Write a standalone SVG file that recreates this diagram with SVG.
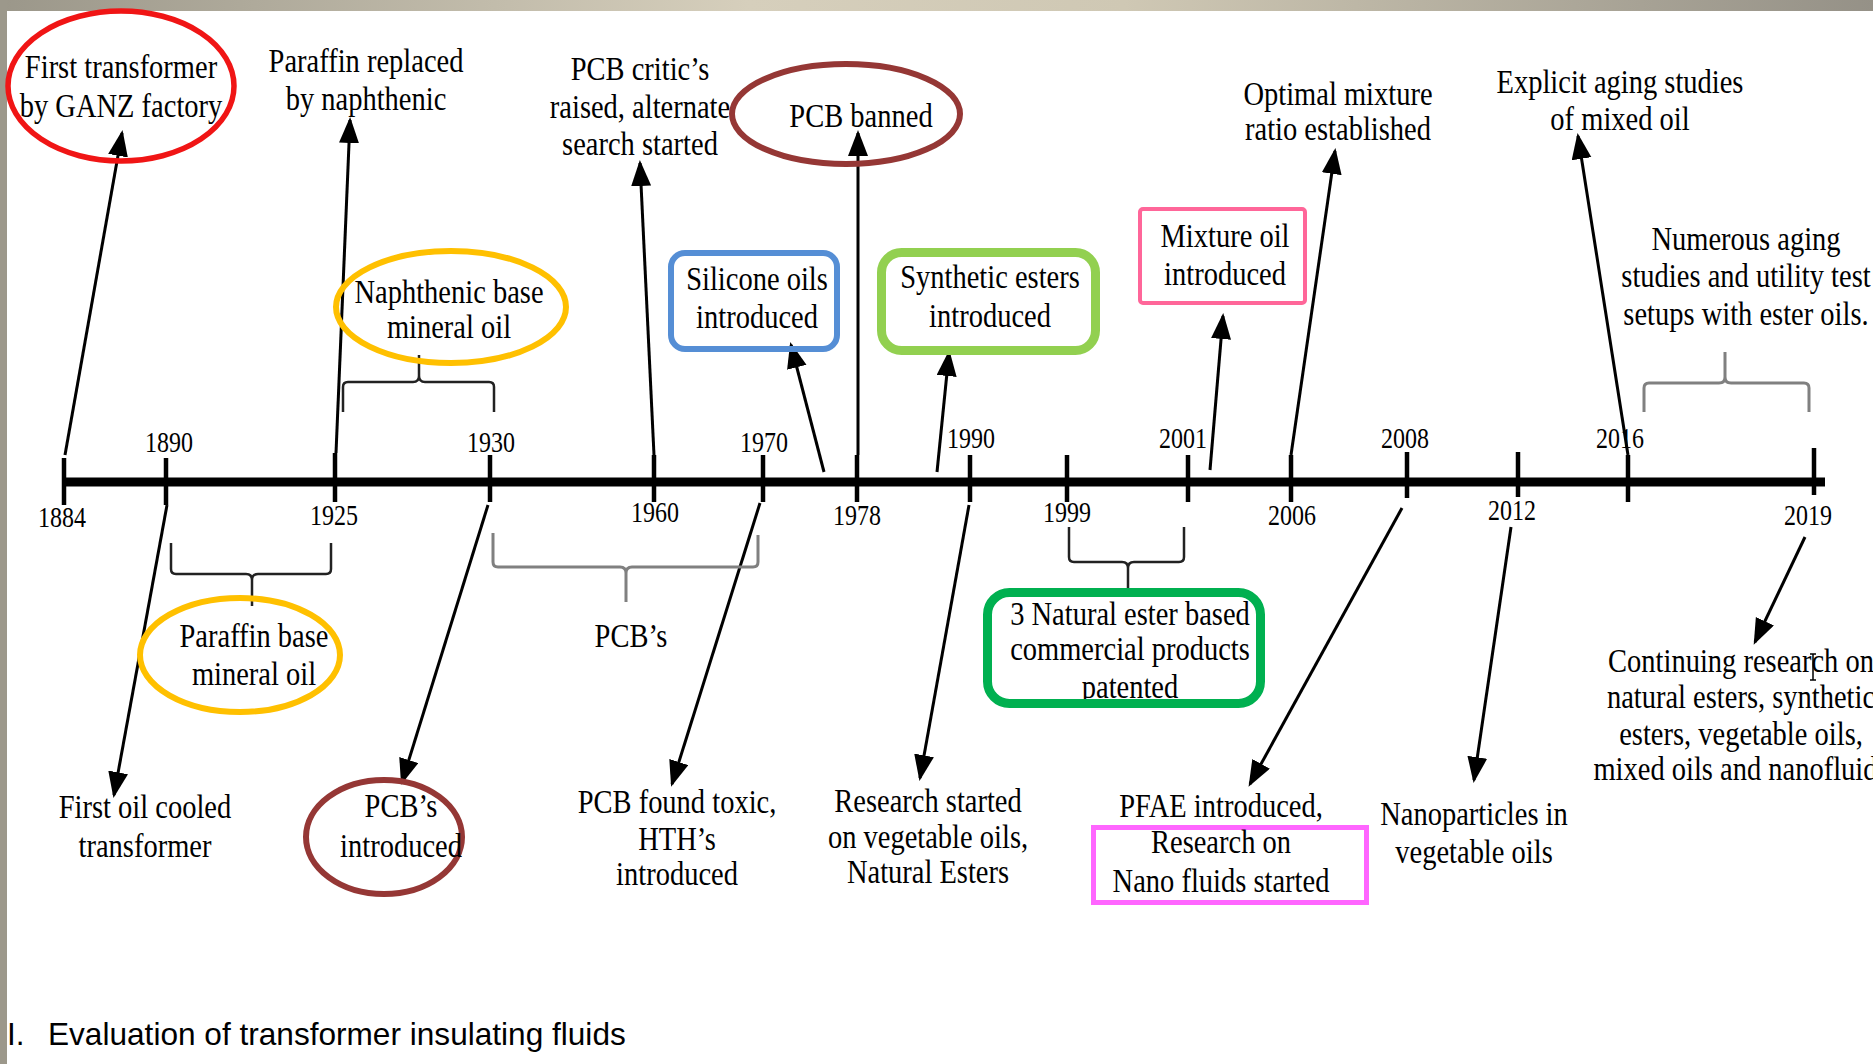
<svg xmlns="http://www.w3.org/2000/svg" width="1873" height="1064" viewBox="0 0 1873 1064">
<defs>
<linearGradient id="topbar" x1="0" x2="1" y1="0" y2="0">
<stop offset="0" stop-color="#9b978a"/>
<stop offset="0.4" stop-color="#d6cfbc"/>
<stop offset="0.6" stop-color="#cfc8b4"/>
<stop offset="1" stop-color="#959187"/>
</linearGradient>
<marker id="ah" markerUnits="userSpaceOnUse" markerWidth="28" markerHeight="22" refX="23" refY="10" orient="auto" viewBox="0 0 28 22">
<path d="M0,0 L26,10 L0,20 z" fill="#000"/>
</marker>
</defs>
<style>
.t{font-family:"Liberation Serif","Times New Roman",serif;font-size:28.5px;fill:#000;text-anchor:middle}
.y{font-family:"Liberation Serif","Times New Roman",serif;font-size:24px;fill:#000;text-anchor:middle}
.cap{font-family:"Liberation Sans",Arial,sans-serif;font-size:31.6px;fill:#000}
.ar{stroke:#000;stroke-width:3;fill:none;marker-end:url(#ah)}
.tk{stroke:#000;stroke-width:4.5}
.br{fill:none;stroke:#222;stroke-width:2.5}
.brg{fill:none;stroke:#808080;stroke-width:3}
.sh{fill:none}
</style>
<rect x="0" y="0" width="1873" height="1064" fill="#fff"/>
<rect x="0" y="0" width="1873" height="11" fill="url(#topbar)"/>
<rect x="0" y="0" width="7" height="1064" fill="#9c988b"/>

<g id="axis">
<line x1="63" y1="482" x2="1825" y2="482" stroke="#000" stroke-width="9"/>
<line class="tk" x1="64" y1="458" x2="64" y2="505"/>
<line class="tk" x1="166" y1="458" x2="166" y2="505"/>
<line class="tk" x1="335" y1="453" x2="335" y2="502"/>
<line class="tk" x1="490" y1="455" x2="490" y2="502"/>
<line class="tk" x1="654" y1="455" x2="654" y2="502"/>
<line class="tk" x1="763" y1="455" x2="763" y2="502"/>
<line class="tk" x1="857" y1="455" x2="857" y2="502"/>
<line class="tk" x1="970" y1="455" x2="970" y2="502"/>
<line class="tk" x1="1067" y1="455" x2="1067" y2="502"/>
<line class="tk" x1="1188" y1="455" x2="1188" y2="502"/>
<line class="tk" x1="1291" y1="455" x2="1291" y2="502"/>
<line class="tk" x1="1407" y1="452" x2="1407" y2="498"/>
<line class="tk" x1="1518" y1="452" x2="1518" y2="497"/>
<line class="tk" x1="1628" y1="455" x2="1628" y2="502"/>
<line class="tk" x1="1814" y1="448" x2="1814" y2="495"/>
<text class="y" transform="translate(62 527) scale(1 1.25)">1884</text>
<text class="y" transform="translate(169 452) scale(1 1.25)">1890</text>
<text class="y" transform="translate(334 525) scale(1 1.25)">1925</text>
<text class="y" transform="translate(491 452) scale(1 1.25)">1930</text>
<text class="y" transform="translate(655 522) scale(1 1.25)">1960</text>
<text class="y" transform="translate(764 452) scale(1 1.25)">1970</text>
<text class="y" transform="translate(857 525) scale(1 1.25)">1978</text>
<text class="y" transform="translate(971 448) scale(1 1.25)">1990</text>
<text class="y" transform="translate(1067 522) scale(1 1.25)">1999</text>
<text class="y" transform="translate(1183 448) scale(1 1.25)">2001</text>
<text class="y" transform="translate(1292 525) scale(1 1.25)">2006</text>
<text class="y" transform="translate(1405 448) scale(1 1.25)">2008</text>
<text class="y" transform="translate(1512 520) scale(1 1.25)">2012</text>
<text class="y" transform="translate(1620 448) scale(1 1.25)">2016</text>
<text class="y" transform="translate(1808 525) scale(1 1.25)">2019</text>
</g>

<g id="connectors">
<line class="ar" x1="65" y1="455" x2="122" y2="133"/>
<line class="ar" x1="336" y1="453" x2="350" y2="120"/>
<line class="ar" x1="654" y1="455" x2="640" y2="163"/>
<line class="ar" x1="858" y1="455" x2="858" y2="133"/>
<line class="ar" x1="824" y1="472" x2="791" y2="345"/>
<line class="ar" x1="937" y1="472" x2="949" y2="353"/>
<line class="ar" x1="1210" y1="470" x2="1223" y2="316"/>
<line class="ar" x1="1291" y1="455" x2="1335" y2="151"/>
<line class="ar" x1="1628" y1="455" x2="1578" y2="136"/>
<line class="ar" x1="167" y1="505" x2="114" y2="795"/>
<line class="ar" x1="488" y1="505" x2="402" y2="782"/>
<line class="ar" x1="760" y1="503" x2="672" y2="784"/>
<line class="ar" x1="969" y1="505" x2="920" y2="778"/>
<line class="ar" x1="1402" y1="508" x2="1250" y2="784"/>
<line class="ar" x1="1511" y1="527" x2="1474" y2="780"/>
<line class="ar" x1="1805" y1="537" x2="1755" y2="642"/>
<path class="br" d="M343,412 L343,387 Q343,382 348,382 L413,382 Q419,382 419,376 L419,355 M419,376 Q419,382 425,382 L489,382 Q494,382 494,387 L494,412"/>
<path class="br" d="M171,543 L171,569 Q171,574 176,574 L246,574 Q252,574 252,580 L252,606 M252,580 Q252,574 258,574 L326,574 Q331,574 331,569 L331,543"/>
<path class="brg" d="M493,533 L493,562 Q493,567 498,567 L620,567 Q626,567 626,573 L626,602 M626,573 Q626,567 632,567 L753,567 Q758,567 758,562 L758,535"/>
<path class="br" d="M1069,527 L1069,557 Q1069,562 1074,562 L1122,562 Q1128,562 1128,568 L1128,590 M1128,568 Q1128,562 1134,562 L1179,562 Q1184,562 1184,557 L1184,527"/>
<path class="brg" d="M1644,412 L1644,388 Q1644,383 1649,383 L1719,383 Q1725,383 1725,377 L1725,352 M1725,377 Q1725,383 1731,383 L1804,383 Q1809,383 1809,388 L1809,412"/>
</g>

<g id="n-first-transformer">
<ellipse class="sh" cx="121" cy="86" rx="113" ry="75" stroke="#f01515" stroke-width="5.5"/>
<text class="t" transform="translate(121 78) scale(1 1.15)"><tspan x="0" y="0">First transformer</tspan><tspan x="0" y="33.9">by GANZ factory</tspan></text>
</g>
<g id="n-paraffin-replaced">
<text class="t" transform="translate(366 72) scale(1 1.15)"><tspan x="0" y="0">Paraffin replaced</tspan><tspan x="0" y="33">by naphthenic</tspan></text>
</g>
<g id="n-naphthenic">
<ellipse class="sh" cx="451" cy="307" rx="115" ry="56" stroke="#FFC000" stroke-width="6"/>
<text class="t" transform="translate(449 303) scale(1 1.15)"><tspan x="0" y="0">Naphthenic base</tspan><tspan x="0" y="30.4">mineral oil</tspan></text>
</g>
<g id="n-pcb-critics">
<text class="t" transform="translate(640 80) scale(1 1.15)"><tspan x="0" y="0">PCB critic’s</tspan><tspan x="0" y="33">raised, alternate</tspan><tspan x="0" y="65.2">search started</tspan></text>
</g>
<g id="n-pcb-banned">
<ellipse class="sh" cx="846" cy="114" rx="114" ry="50" stroke="#953735" stroke-width="6"/>
<text class="t" transform="translate(861 127) scale(1 1.15)">PCB banned</text>
</g>
<g id="n-silicone">
<rect class="sh" x="671" y="253" width="166" height="96" rx="14" stroke="#558ED5" stroke-width="6"/>
<text class="t" transform="translate(757 290) scale(1 1.15)"><tspan x="0" y="0">Silicone oils</tspan><tspan x="0" y="33">introduced</tspan></text>
</g>
<g id="n-synthetic">
<rect class="sh" x="881.5" y="252.5" width="214" height="98" rx="20" stroke="#92D050" stroke-width="9"/>
<text class="t" transform="translate(990 288) scale(1 1.15)"><tspan x="0" y="0">Synthetic esters</tspan><tspan x="0" y="33.9">introduced</tspan></text>
</g>
<g id="n-mixture">
<rect class="sh" x="1140" y="209" width="165" height="94" rx="3" stroke="#FF6699" stroke-width="4"/>
<text class="t" transform="translate(1225 247) scale(1 1.15)"><tspan x="0" y="0">Mixture oil</tspan><tspan x="0" y="33">introduced</tspan></text>
</g>
<g id="n-optimal">
<text class="t" transform="translate(1338 105) scale(1 1.15)"><tspan x="0" y="0">Optimal mixture</tspan><tspan x="0" y="30.4">ratio established</tspan></text>
</g>
<g id="n-explicit">
<text class="t" transform="translate(1620 93) scale(1 1.15)"><tspan x="0" y="0">Explicit aging studies</tspan><tspan x="0" y="32.2">of mixed oil</tspan></text>
</g>
<g id="n-numerous">
<text class="t" transform="translate(1746 250) scale(1 1.15)"><tspan x="0" y="0">Numerous aging</tspan><tspan x="0" y="32.2">studies and utility test</tspan><tspan x="0" y="65.2">setups with ester oils.</tspan></text>
</g>
<g id="n-paraffin-base">
<ellipse class="sh" cx="240" cy="655" rx="100" ry="57" stroke="#FFC000" stroke-width="6"/>
<text class="t" transform="translate(254 647) scale(1 1.15)"><tspan x="0" y="0">Paraffin base</tspan><tspan x="0" y="33">mineral oil</tspan></text>
</g>
<g id="n-first-oil-cooled">
<text class="t" transform="translate(145 818) scale(1 1.15)"><tspan x="0" y="0">First oil cooled</tspan><tspan x="0" y="33.9">transformer</tspan></text>
</g>
<g id="n-pcbs-introduced">
<ellipse class="sh" cx="384" cy="837" rx="78" ry="57" stroke="#953735" stroke-width="6"/>
<text class="t" transform="translate(401 817) scale(1 1.15)"><tspan x="0" y="0">PCB’s</tspan><tspan x="0" y="34.8">introduced</tspan></text>
</g>
<g id="n-pcbs">
<text class="t" transform="translate(631 647) scale(1 1.15)">PCB’s</text>
</g>
<g id="n-pcb-toxic">
<text class="t" transform="translate(677 813) scale(1 1.15)"><tspan x="0" y="0">PCB found toxic,</tspan><tspan x="0" y="32.2">HTH’s</tspan><tspan x="0" y="62.6">introduced</tspan></text>
</g>
<g id="n-research-veg">
<text class="t" transform="translate(928 812) scale(1 1.15)"><tspan x="0" y="0">Research started</tspan><tspan x="0" y="31.3">on vegetable oils,</tspan><tspan x="0" y="61.7">Natural Esters</tspan></text>
</g>
<g id="n-natural-ester">
<text class="t" transform="translate(1130 625) scale(1 1.15)"><tspan x="0" y="0">3 Natural ester based</tspan><tspan x="0" y="30.4">commercial products</tspan><tspan x="0" y="63.5">patented</tspan></text>
<rect class="sh" x="987.5" y="592.5" width="273" height="111" rx="22" stroke="#00B050" stroke-width="9"/>
</g>
<g id="n-pfae">
<rect class="sh" x="1093.5" y="827.5" width="273" height="75" stroke="#FF66FF" stroke-width="5"/>
<text class="t" transform="translate(1221 817) scale(1 1.15)"><tspan x="0" y="0">PFAE introduced,</tspan><tspan x="0" y="31.3">Research on</tspan><tspan x="0" y="65.2">Nano fluids started</tspan></text>
</g>
<g id="n-nanoparticles">
<text class="t" transform="translate(1474 825) scale(1 1.15)"><tspan x="0" y="0">Nanoparticles in</tspan><tspan x="0" y="33">vegetable oils</tspan></text>
</g>
<g id="n-continuing">
<text class="t" transform="translate(1741 672) scale(1 1.15)"><tspan x="0" y="0">Continuing research on</tspan><tspan x="0" y="31.3">natural esters, synthetic</tspan><tspan x="0" y="63.5">esters, vegetable oils,</tspan><tspan x="0" y="93.9">mixed oils and nanofluids</tspan></text>
<path d="M1810,654 L1816,654 M1813,654 L1813,680 M1810,680 L1816,680" stroke="#000" stroke-width="1.5" fill="none"/>
</g>

<g id="caption">
<text class="cap" x="7" y="1045">I.</text>
<text class="cap" x="48" y="1045">Evaluation of transformer insulating fluids</text>
</g>
</svg>
